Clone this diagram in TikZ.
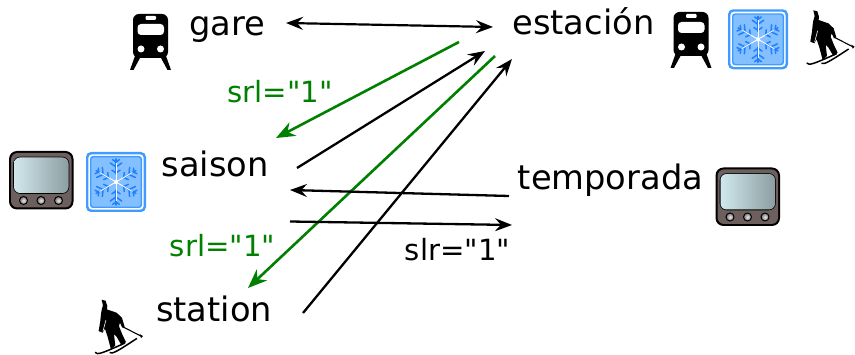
\documentclass[tikz,border=0pt]{standalone}
\usepackage{fontspec}
\newfontfamily\djv{DejaVu Sans}
\usetikzlibrary{arrows.meta}
\definecolor{grn}{HTML}{008000}
\definecolor{snowa}{HTML}{3F9BFF}
\definecolor{snowb}{HTML}{84BFFF}
\definecolor{snowc}{HTML}{1F80FF}
\definecolor{tvbody}{HTML}{6E5F5F}
\tikzset{
  x=1pt,y=-1pt,
  lab/.style={font=\djv\fontsize{33.7}{40}\selectfont,anchor=base,inner sep=0pt},
  small/.style={font=\djv\fontsize{29.2}{35}\selectfont,anchor=base,inner sep=0pt},
  link/.style={line width=2.3pt,-{Stealth[length=17pt,width=13pt,inset=6pt]}},
  dlink/.style={line width=2.2pt,{Stealth[length=17pt,width=13pt,inset=6pt]}-{Stealth[length=17pt,width=13pt,inset=6pt]}},
  glink/.style={line width=2.6pt,draw=grn,-{Stealth[length=19pt,width=15pt,inset=6pt]}},
  pics/train/.style={code={
    \fill[black,rounded corners=6pt] (3,0) rectangle (38,44);
    \fill[white,rounded corners=3.5pt] (7.5,10) rectangle (34,21);
    \fill[white,rounded corners=1pt] (15.5,2) rectangle (26,6);
    \fill[white] (11,35) circle[radius=3.5pt] (30.5,35) circle[radius=3.5pt];
    \fill[black] (5,42) -- (10,44) -- (3.5,56) -- (0,56) -- cycle;
    \fill[black] (36,42) -- (31,44) -- (37.5,56) -- (41,56) -- cycle;
  }},
  pics/tvset/.style={code={
    \fill[black,rounded corners=8pt] (0,0) rectangle (64.5,58.5);
    \fill[tvbody,rounded corners=6.5pt] (2,2) rectangle (62.5,56.5);
    \fill[black,rounded corners=7pt] (4.2,5.7) rectangle (60.3,42.8);
    \shade[rounded corners=6pt,shading angle=-50,left color={rgb,255:red,208;green,232;blue,236},right color={rgb,255:red,140;green,158;blue,162}]
      (5,6.5) rectangle (59.5,42);
    \foreach \k in {14.5,32,49.5}{
      \draw[black,line width=1pt,inner color=black!8,outer color=black!55] (\k,49.5) circle[radius=4pt];
    }
  }},
  pics/snowbox/.style={code={
    \fill[snowa,rounded corners=5pt] (0,0) rectangle (60,60);
    \fill[white,rounded corners=3.5pt] (2.4,2.4) rectangle (57.6,57.6);
    \fill[snowa,rounded corners=3pt] (4,4) rectangle (56,56);
    \fill[snowb,rounded corners=2.5pt] (5.4,5.4) rectangle (54.6,54.6);
    \foreach \a in {30,90,150,210,270,330}{
      \begin{scope}[shift={(30,30)},rotate=\a]
        \draw[snowc,line width=1.5pt,line cap=round] (8,0) -- (23,0);
        \foreach \r/\l in {9/5,15/7,20/4}{
          \draw[snowc,line width=1.5pt,line cap=round] (\r,0) -- ++(55:\l);
          \draw[snowc,line width=1.5pt,line cap=round] (\r,0) -- ++(-55:\l);
        }
        \draw[white,line width=0.9pt] (0,0) -- (19,0);
      \end{scope}
    }
    \fill[white] (30,30) circle[radius=2.2pt];
  }},
  pics/skier/.style={code={
    \begin{scope}[x=0.3333pt,y=-0.3333pt]
    \fill[black] (460,31) -- (472,34) -- (477,50) -- (476,60) -- (505,70) -- (521,85)
      -- (529,112) -- (522,115) -- (515,100) -- (512,110) -- (522,135) -- (533,158)
      -- (520,168) -- (505,142) -- (497,134) -- (501,168) -- (488,180) -- (478,142)
      -- (470,118) -- (463,130) -- (451,125) -- (456,95) -- (458,75) -- (460,62) -- (464,48) -- cycle;
    \draw[black,line width=1.5pt] (440,189) .. controls (448,197) and (458,193) .. (530,161);
    \draw[black,line width=1.5pt] (484,190) .. controls (495,193) and (505,187) .. (566,147);
    \draw[black,line width=1.1pt] (525,113) -- (578,140);
    \fill[black] (574,134) -- (584,140) -- (578,146) -- cycle;
    \draw[white,line width=0.6pt] (473,92) -- (464,126);
    \end{scope}
  }}
}
\begin{document}
\begin{tikzpicture}
\useasboundingbox (0,0) rectangle (855,355);
\fill[white] (0,0) rectangle (855,355);
% labels
\node[lab] (gare) at (227,36) {gare};
\node[lab] (estacion) at (583.5,34.5) {estación};
\node[lab] (saison) at (215,176.5) {saison};
\node[lab] (temporada) at (610.5,189.5) {temporada};
\node[lab] (station) at (214,321.5) {station};
\node[small,text=grn] (srla) at (280,102.5) {srl="1"};
\node[small,text=grn] (srlb) at (222.5,257) {srl="1"};
\node[small] (slr) at (457.5,261) {slr="1"};
% icons
\pic at (130,14) {train};
\pic at (670.5,12) {train};
\pic at (9,151) {tvset};
\pic at (715.5,167.5) {tvset};
\pic at (86,152) {snowbox};
\pic at (728,9.3) {snowbox};
\pic at (660,0) {skier};
\pic at (-51.7,289.4) {skier};
% connector ends
\coordinate (g1) at (286,23);
\coordinate (e1) at (493,27);
\coordinate (e2) at (459,42);
\coordinate (s2) at (276,138);
\coordinate (s3) at (297,168);
\coordinate (e3) at (485,51);
\coordinate (e4) at (495,56);
\coordinate (t4) at (248,288);
\coordinate (t5) at (303,313);
\coordinate (e5) at (512,59);
\coordinate (m6) at (509,196);
\coordinate (s6) at (290,190);
\coordinate (s7) at (290,221.5);
\coordinate (m7) at (512,225);
% connectors
\draw[dlink] (g1) -- (e1);
\draw[glink] (e2) -- (s2);
\draw[link] (s3) -- (e3);
\draw[glink] (e4) -- (t4);
\draw[link] (t5) -- (e5);
\draw[link] (m6) -- (s6);
\draw[link] (s7) -- (m7);
\end{tikzpicture}
\end{document}
